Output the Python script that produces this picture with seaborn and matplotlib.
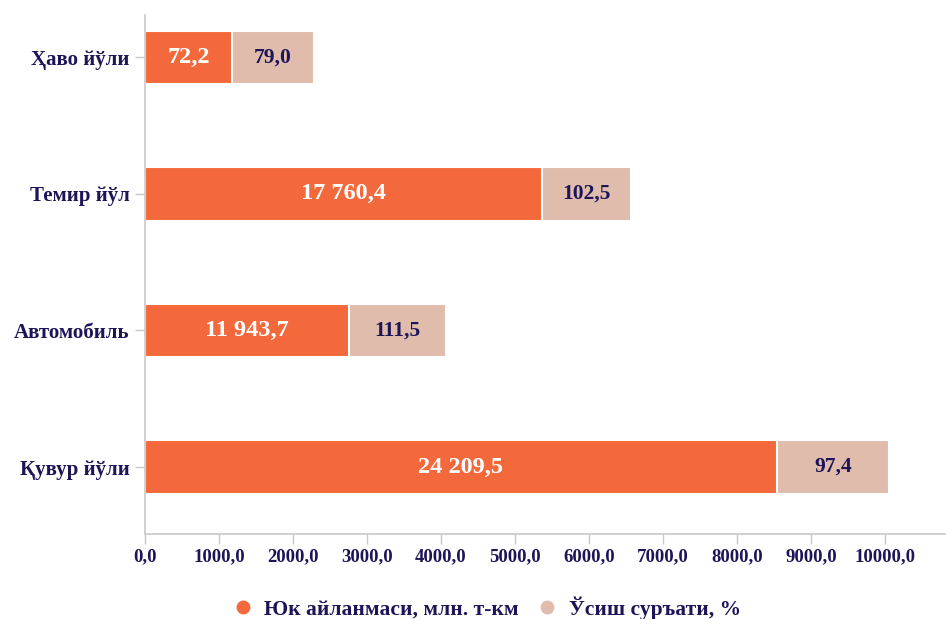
import numpy as np
import pandas as pd
import seaborn as sns
import matplotlib.pyplot as plt
from matplotlib.lines import Line2D

categories = ['Ҳаво йўли', 'Темир йўл', 'Автомобиль', 'Қувур йўли']
# bar lengths as drawn on the axis
turnover_len = [1176, 5369, 2752, 8540]
growth_len = [1103, 1203, 1316, 1509]
# numbers printed on the bars
turnover_text = ['72,2', '17 760,4', '11 943,7', '24 209,5']
growth_text = ['79,0', '102,5', '111,5', '97,4']
xticks = [0, 1000, 2000, 3000, 4000, 5000, 6000, 7000, 8000, 9000, 10000]
xtick_labels = ['0,0', '1000,0', '2000,0', '3000,0', '4000,0', '5000,0',
                '6000,0', '7000,0', '8000,0', '9000,0', '10000,0']
legend_labels = ['Юк айланмаси, млн. т-км', 'Ўсиш суръати, %']

orange = '#f4693c'
pink = '#e0bcad'
navy = '#1d1557'
grey = '#c8c8c8'

sns.set_style('white')
plt.rcParams['font.family'] = ['Liberation Serif', 'DejaVu Serif']
plt.rcParams['font.weight'] = 'bold'

df = pd.DataFrame({'cat': categories,
                   'turnover': turnover_len,
                   'total': np.array(turnover_len) + np.array(growth_len)})

fig = plt.figure(figsize=(9.47, 6.19), dpi=100)
ax = fig.add_axes([0.1531, 0.1373, 0.845, 0.8385])

sns.barplot(x='total', y='cat', data=df, color=pink, width=0.39, orient='h',
            saturation=1, edgecolor='white', linewidth=1.5, ax=ax)
sns.barplot(x='turnover', y='cat', data=df, color=orange, width=0.39, orient='h',
            saturation=1, edgecolor='white', linewidth=1.5, ax=ax)

for i in range(len(categories)):
    ax.text(turnover_len[i] / 2, i, turnover_text[i], ha='center', va='center',
            color='white', fontsize=17.5, fontweight='bold')
    ax.text(turnover_len[i] + growth_len[i] / 2, i, growth_text[i], ha='center',
            va='center', color=navy, fontsize=15.5, fontweight='bold')

ax.set_xlim(0, 10815)
ax.set_ylim(3.49, -0.31)
ax.set_xticks(xticks)
ax.set_xticklabels(xtick_labels, fontsize=13.5, fontweight='bold', color=navy)
ax.set_yticks(range(len(categories)))
ax.set_yticklabels(categories, fontsize=15, fontweight='bold', color=navy)
ax.set_xlabel('')
ax.set_ylabel('')
ax.tick_params(axis='both', bottom=True, left=True, length=7, color=grey, width=1)
ax.tick_params(axis='y', pad=4)
ax.tick_params(axis='x', pad=3)

for s in ['top', 'right']:
    ax.spines[s].set_visible(False)
for s in ['left', 'bottom']:
    ax.spines[s].set_color(grey)
    ax.spines[s].set_linewidth(1.2)

handles = [Line2D([], [], marker='o', linestyle='', color=orange, markersize=9),
           Line2D([], [], marker='o', linestyle='', color=pink, markersize=9)]
leg = fig.legend(handles, legend_labels, loc='center', bbox_to_anchor=(0.508, 0.018),
                 ncol=2, frameon=False, handletextpad=0.0, columnspacing=0.3,
                 prop={'size': 15.5, 'weight': 'bold'})
for t in leg.get_texts():
    t.set_color(navy)

fig.savefig('out.png', dpi=100)
